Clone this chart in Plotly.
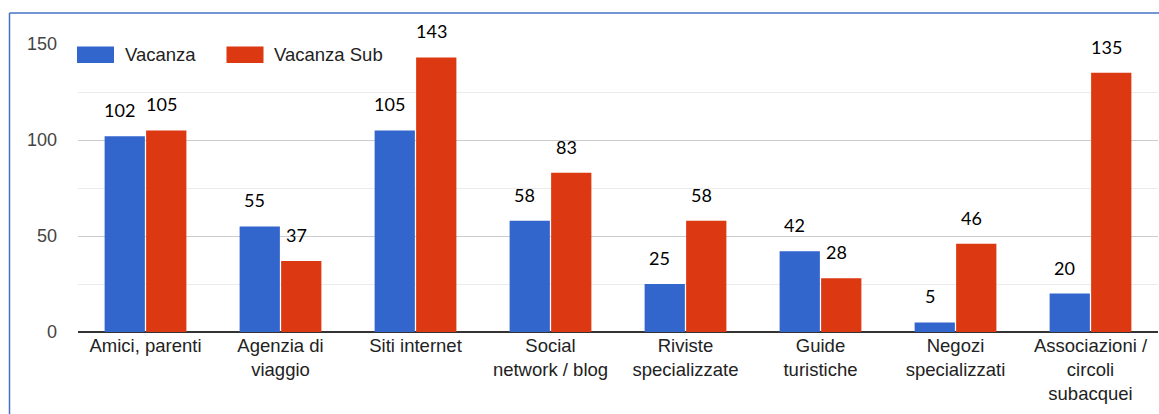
import plotly.graph_objects as go

# Information sources, two respondent groups
categories = [
    "Amici, parenti",
    "Agenzia di<br>viaggio",
    "Siti internet",
    "Social<br>network / blog",
    "Riviste<br>specializzate",
    "Guide<br>turistiche",
    "Negozi<br>specializzati",
    "Associazioni /<br>circoli<br>subacquei",
]
series_names = ["Vacanza", "Vacanza Sub"]
vacanza = [102, 55, 105, 58, 25, 42, 5, 20]
vacanza_sub = [105, 37, 143, 83, 58, 28, 46, 135]
y_ticks = [0, 50, 100, 150]

colors = ["#3366CC", "#DC3912"]
BARGAP = 0.385
W, H = 1159, 414
ML, MR, MT, MB = 78, 1, 44, 82

xpos = list(range(len(categories)))
fig = go.Figure()
for name, vals, col in zip(series_names, [vacanza, vacanza_sub], colors):
    fig.add_trace(go.Bar(x=xpos, y=vals, name=name, marker_color=col,
                         marker_line_width=0, showlegend=False))

# value labels above each bar, in bar-centre coordinates
half = (1 - BARGAP) / 4
label_font = dict(family="Lato", size=18, color="#000000")
for k, vals in enumerate([vacanza, vacanza_sub]):
    off = -half if k == 0 else half
    for i, v in enumerate(vals):
        fig.add_annotation(x=i + off, y=v, text=str(v), showarrow=False,
                           xanchor="center", yanchor="middle",
                           xshift=-5, yshift=26, font=label_font)

# pixel helpers for layout decorations
pw, ph = W - ML - MR, H - MT - MB
def px_x(p):
    return (p - ML) / pw
def px_y(p):
    return (H - MB - p) / ph

# manual legend with wide swatches
legend_items = [(77, 114, 123), (226.5, 263.5, 272)]
for (x0, x1, tx), name, col in zip(legend_items, series_names, colors):
    fig.add_shape(type="rect", xref="paper", yref="paper",
                  x0=px_x(x0), x1=px_x(x1), y0=px_y(63), y1=px_y(46.5),
                  fillcolor=col, line_width=0)
    fig.add_annotation(xref="paper", yref="paper", x=px_x(tx), y=px_y(54.5),
                       text=name, showarrow=False, xanchor="left", yanchor="middle",
                       font=dict(family="Liberation Sans", size=18.5, color="#222222"))

# blue frame on the top and left edges
frame = dict(color="#4472C4", width=1.5)
fig.add_shape(type="line", xref="paper", yref="paper",
              x0=px_x(9.5), x1=px_x(1170), y0=px_y(13), y1=px_y(13), line=frame)
fig.add_shape(type="line", xref="paper", yref="paper",
              x0=px_x(9.5), x1=px_x(9.5), y0=px_y(13), y1=px_y(430), line=frame)

fig.update_layout(
    width=W, height=H,
    margin=dict(l=ML, r=MR, t=MT, b=MB, pad=0),
    paper_bgcolor="white", plot_bgcolor="white",
    barmode="group", bargap=BARGAP, bargroupgap=0.03,
    font=dict(family="Liberation Sans", size=18.5, color="#222222"),
    xaxis=dict(
        range=[-0.5, len(categories) - 0.5],
        tickmode="array", tickvals=xpos, ticktext=categories,
        showgrid=False, zeroline=False, showline=False, ticks="",
        tickfont=dict(family="Liberation Sans", size=18.5, color="#222222"),
    ),
    yaxis=dict(
        range=[0, 150], tickmode="array", tickvals=y_ticks,
        showgrid=True, gridcolor="#cccccc", gridwidth=1,
        minor=dict(dtick=25, showgrid=True, gridcolor="#ebebeb", gridwidth=1),
        zeroline=True, zerolinecolor="#333333", zerolinewidth=2,
        showline=False, ticks="", ticklabelstandoff=20,
        tickfont=dict(family="Liberation Sans", size=18, color="#444444"),
    ),
)

fig.write_html("out.html")
